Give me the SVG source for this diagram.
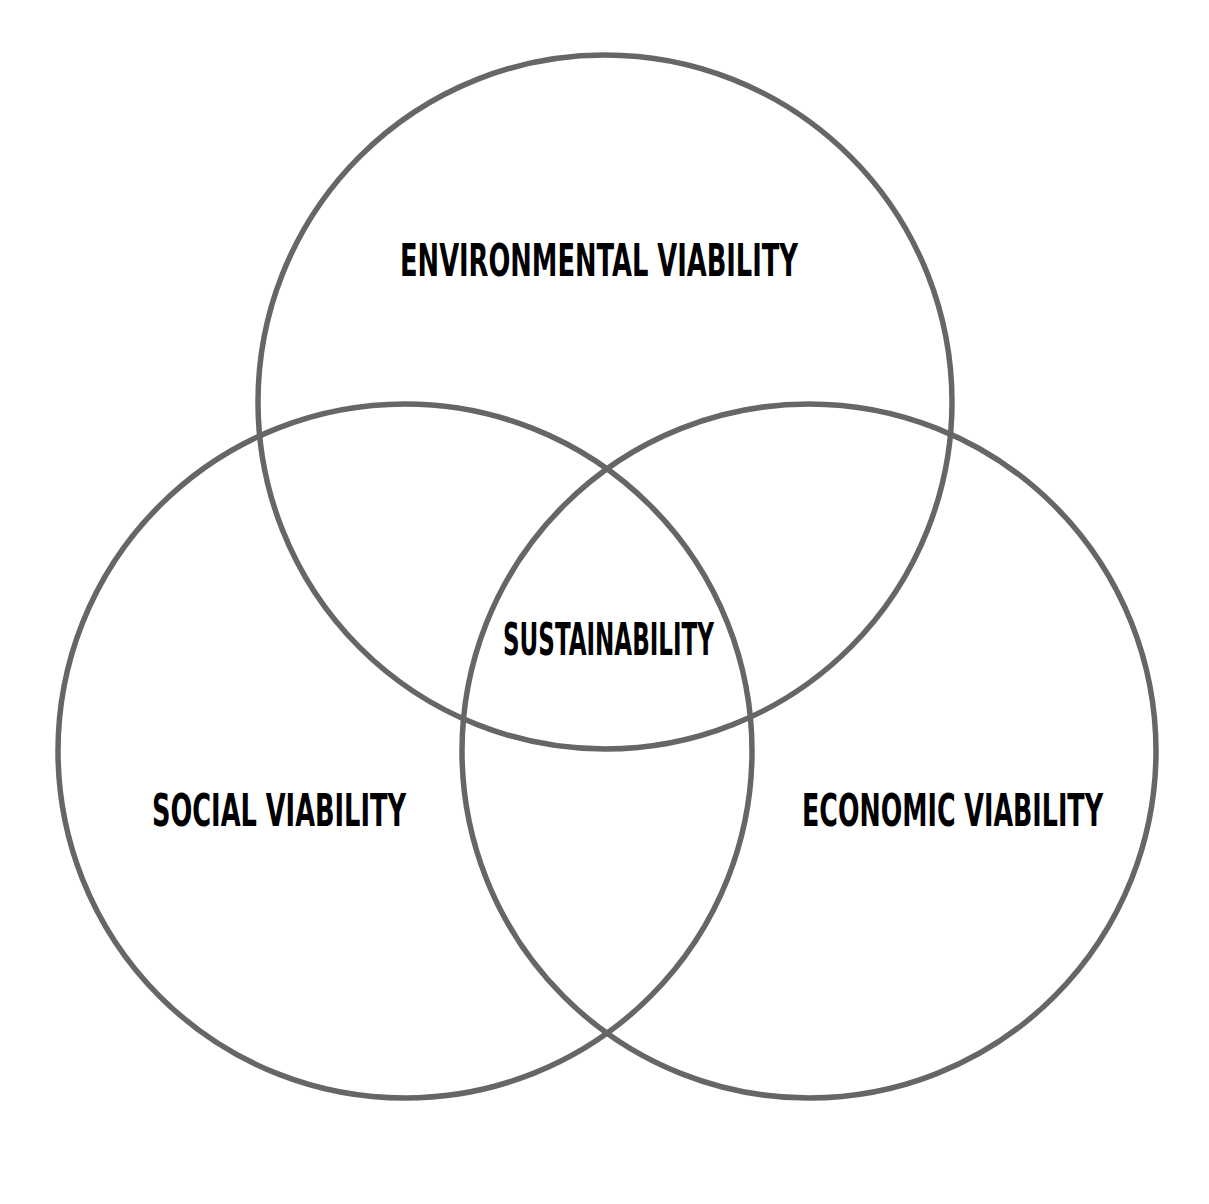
<svg xmlns="http://www.w3.org/2000/svg" width="1209" height="1204" viewBox="0 0 1209 1204">
<style>
.c{fill:none;stroke:#666669;stroke-width:5.5}
.t{font-family:"DejaVu Sans Condensed","DejaVu Sans","Liberation Sans",sans-serif;font-weight:bold;font-size:45px;fill:#000}
</style>
<rect width="1209" height="1204" fill="#fff"/>
<g id="environmental">
<circle class="c" cx="605" cy="402" r="347"/>
<text class="t" x="400" y="276" textLength="398" lengthAdjust="spacingAndGlyphs">ENVIRONMENTAL VIABILITY</text>
</g>
<g id="social">
<circle class="c" cx="405" cy="751" r="347"/>
<text class="t" x="152" y="826" textLength="254" lengthAdjust="spacingAndGlyphs">SOCIAL VIABILITY</text>
</g>
<g id="economic">
<circle class="c" cx="809" cy="751" r="347"/>
<text class="t" x="802" y="826" textLength="301" lengthAdjust="spacingAndGlyphs">ECONOMIC VIABILITY</text>
</g>
<g id="sustainability">
<text class="t" x="503" y="655" textLength="211" lengthAdjust="spacingAndGlyphs">SUSTAINABILITY</text>
</g>
<g id="connectors"></g>
</svg>
